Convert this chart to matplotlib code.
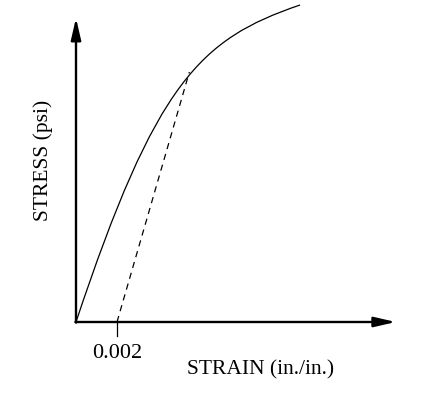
import matplotlib
matplotlib.use("Agg")
from matplotlib import pyplot as plt
from matplotlib.path import Path
from matplotlib.patches import PathPatch

# stress-strain curve, as a cubic Bezier (start, two control points, end)
curve_strain = [0, 0.0039, 0.00605, 0.01093]
curve_stress = [0, 240, 283, 317]

# 0.2% offset line
offset_strain = [0.002, 0.00553]
offset_stress = [0, 250]

x_tip = 0.0156
y_tip = 300
tick_label = "0.002"

k = 0.002 / 41  # strain per pixel
fig = plt.figure(figsize=(4.23, 3.94), dpi=100)
ax = fig.add_axes([0, 0, 1, 1])
ax.set_xlim(-76 * k, (423 - 76) * k)
ax.set_ylim(-72, 322)
ax.axis("off")

serif = ["Liberation Serif", "DejaVu Serif"]

path = Path(list(zip(curve_strain, curve_stress)),
            [Path.MOVETO, Path.CURVE4, Path.CURVE4, Path.CURVE4])
ax.add_patch(PathPatch(path, facecolor="none", edgecolor="black", lw=0.9))
ax.plot(offset_strain, offset_stress, color="black", lw=0.9, dashes=(5, 4))

# axes with arrow heads
arr = dict(arrowstyle="-|>,head_length=0.65,head_width=0.15", color="black",
           lw=1.7, mutation_scale=20, shrinkA=0, shrinkB=0)
ax.annotate("", xy=(x_tip, 0), xytext=(-0.6 * k, 0), arrowprops=arr)
ax.annotate("", xy=(0, y_tip + 4), xytext=(0, -0.6), arrowprops=arr)

# tick for 0.002
ax.plot([0.002, 0.002], [0, -14], color="black", lw=0.9)
ax.text(0.002, -32, tick_label, ha="center", va="center", fontsize=16, family=serif)

ax.text(185 * k, -48, "STRAIN (in./in.)", ha="center", va="center", fontsize=15.5, family=serif)
ax.text(-33 * k, 162, "STRESS (psi)", ha="center", va="center", rotation=90,
        fontsize=15.5, family=serif)

fig.savefig("out.png", dpi=100)
